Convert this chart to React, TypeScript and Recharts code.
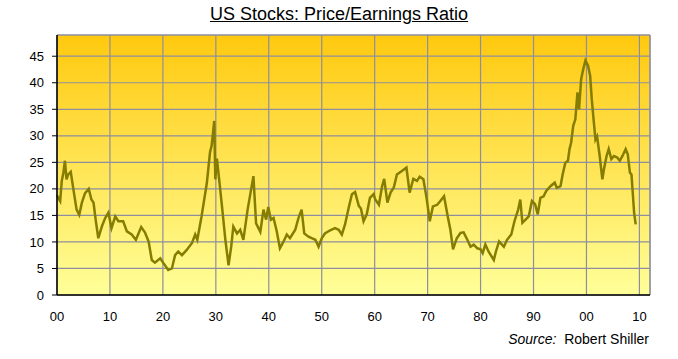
import { LineChart, Line, XAxis, YAxis, CartesianGrid, ReferenceLine } from 'recharts';

const years = [
  1900.0, 1900.1, 1900.6, 1900.9, 1901.2, 1901.5, 1901.8, 1902.1, 1902.6, 1903.1, 1903.7, 1904.2, 1904.7,
  1905.3, 1906.0, 1906.5, 1906.9, 1907.3, 1907.8, 1908.5, 1909.1, 1909.7, 1910.3, 1911.0, 1911.6, 1912.5,
  1913.2, 1914.1, 1914.9, 1915.9, 1916.6, 1917.3, 1917.9, 1918.5, 1919.5, 1920.1, 1921.0, 1921.7, 1922.3,
  1922.9, 1923.6, 1924.5, 1925.5, 1926.1, 1926.5, 1927.3, 1928.3, 1928.9, 1929.2, 1929.7, 1929.9, 1930.2,
  1930.7, 1931.1, 1931.8, 1932.4, 1932.9, 1933.3, 1934.0, 1934.6, 1935.2, 1936.0, 1937.1, 1937.6, 1938.4,
  1939.0, 1939.5, 1939.9, 1940.4, 1940.9, 1941.5, 1942.1, 1942.8, 1943.4, 1944.0, 1945.0, 1945.6, 1946.2,
  1946.7, 1947.5, 1948.1, 1948.8, 1949.4, 1950.0, 1950.6, 1951.6, 1952.5, 1953.2, 1953.8, 1954.4, 1955.1,
  1955.7, 1956.3, 1957.0, 1957.4, 1957.9, 1958.5, 1959.1, 1959.8, 1960.1, 1960.8, 1961.4, 1961.8, 1962.4,
  1963.0, 1963.6, 1964.2, 1965.2, 1966.0, 1966.6, 1967.3, 1968.0, 1968.5, 1969.2, 1969.8, 1970.4, 1971.0,
  1971.8, 1972.4, 1973.1, 1973.8, 1974.3, 1974.8, 1975.5, 1976.2, 1976.8, 1977.5, 1978.1, 1978.7, 1979.4,
  1980.0, 1980.4, 1980.9, 1981.5, 1982.5, 1982.9, 1983.5, 1984.4, 1985.0, 1985.8, 1986.4, 1987.1, 1987.5,
  1987.9, 1988.5, 1989.1, 1989.7, 1990.3, 1990.8, 1991.3, 1991.9, 1992.4, 1993.2, 1994.0, 1994.4, 1995.1,
  1995.5, 1996.0, 1996.5, 1996.8, 1997.1, 1997.5, 1997.9, 1998.3, 1998.6, 1999.0, 1999.4, 1999.8, 2000.3,
  2000.7, 2001.0, 2001.4, 2001.7, 2002.0, 2002.5, 2003.0, 2003.3, 2003.8, 2004.2, 2004.7, 2005.2, 2005.8,
  2006.3, 2006.8, 2007.4, 2007.8, 2008.2, 2008.5, 2008.7, 2009.0, 2009.3,
];

const peRatio = [
  18.8, 18.6, 17.7, 21.5, 23.0, 25.3, 21.8, 22.7, 23.2, 19.9, 16.1, 15.1, 17.4,
  19.2, 20.0, 18.0, 17.4, 14.2, 10.7, 13.0, 14.5, 15.5, 12.6, 14.8, 13.9, 13.9,
  12.0, 11.4, 10.4, 12.8, 11.8, 10.1, 6.6, 6.1, 6.9, 6.0, 4.7, 5.0, 7.5,
  8.2, 7.5, 8.5, 9.8, 11.4, 10.4, 14.8, 21.1, 26.9, 28.1, 32.8, 21.8, 25.7,
  21.1, 17.3, 10.4, 5.6, 9.1, 12.9, 11.6, 12.3, 10.4, 16.1, 22.4, 13.5, 11.9,
  16.1, 14.2, 16.6, 14.2, 14.5, 12.0, 8.8, 10.1, 11.4, 10.7, 12.3, 14.5, 16.1,
  11.6, 11.0, 10.7, 10.4, 9.1, 10.7, 11.6, 12.2, 12.6, 12.3, 11.4, 13.3, 16.5,
  19.0, 19.4, 16.8, 16.3, 13.9, 15.2, 18.3, 19.0, 18.0, 17.0, 20.5, 21.9, 17.4,
  19.3, 20.2, 22.7, 23.4, 24.0, 19.3, 21.9, 21.5, 22.3, 21.8, 18.3, 13.9, 16.7,
  17.0, 17.7, 18.6, 14.8, 12.3, 8.6, 10.7, 11.7, 11.8, 10.4, 9.1, 9.5, 8.8,
  8.6, 7.9, 9.5, 8.2, 6.6, 8.2, 10.1, 9.1, 10.4, 11.4, 13.9, 16.1, 18.0,
  13.6, 14.2, 14.8, 17.7, 17.1, 15.2, 18.3, 18.6, 19.6, 20.5, 21.2, 20.2, 20.5,
  22.7, 24.9, 25.3, 27.5, 28.7, 31.9, 33.1, 38.2, 35.0, 40.7, 42.6, 44.2, 43.2,
  41.3, 36.9, 32.5, 29.3, 29.9, 26.2, 21.8, 23.7, 26.2, 27.5, 25.6, 26.2, 25.9,
  25.3, 26.2, 27.5, 26.5, 23.1, 22.7, 19.9, 15.5, 13.3,
];

const yTicks = [0, 5, 10, 15, 20, 25, 30, 35, 40, 45];
const xTicks = [1900, 1910, 1920, 1930, 1940, 1950, 1960, 1970, 1980, 1990, 2000, 2010];

const data = years.map((y, i) => ({ year: y, pe: peRatio[i] }));

const FONT = '"Liberation Sans", Arial, sans-serif';
const GRID = '#8e8e9e';

export default function App() {
  return (
    <div style={{ position: 'absolute', left: 0, top: 0, width: 678, height: 359, background: '#fff', fontFamily: FONT }}>
      <div
        style={{
          position: 'absolute', left: 0, top: 5, width: 678, textAlign: 'center',
          fontSize: 18, lineHeight: '18px', textDecoration: 'underline', color: '#000',
        }}
      >
        US Stocks: Price/Earnings Ratio
      </div>
      <LineChart width={678} height={359} data={data} margin={{ top: 35, right: 28, left: 0, bottom: 0 }}>
        <defs>
          <linearGradient id="bg" x1="0" y1="0" x2="0" y2="1">
            <stop offset="0%" stopColor="#ffc90e" />
            <stop offset="100%" stopColor="#ffff99" />
          </linearGradient>
        </defs>
        <CartesianGrid stroke={GRID} strokeWidth={1.2} fill="url(#bg)" fillOpacity={1} />
        <XAxis
          dataKey="year"
          type="number"
          domain={[1900, 2012]}
          ticks={xTicks}
          interval={0}
          height={64}
          tickLine={false}
          tickSize={0}
          tickMargin={17}
          axisLine={{ stroke: '#000', strokeWidth: 1.5 }}
          tickFormatter={(v: number) => String(v % 100).padStart(2, '0')}
          tick={{ fill: '#000', fontSize: 13, fontFamily: FONT }}
        />
        <YAxis
          type="number"
          domain={[0, 49]}
          ticks={yTicks}
          interval={0}
          width={57}
          tickSize={5}
          tickMargin={8}
          tickLine={{ stroke: '#000' }}
          axisLine={{ stroke: '#000', strokeWidth: 1.5 }}
          tick={{ fill: '#000', fontSize: 13, fontFamily: FONT }}
        />
        <ReferenceLine y={49} stroke={GRID} strokeWidth={1.2} />
        <ReferenceLine x={2012} stroke={GRID} strokeWidth={1.2} />
        <Line
          type="linear"
          dataKey="pe"
          stroke="#857d00"
          strokeWidth={2.5}
          dot={false}
          isAnimationActive={false}
        />
      </LineChart>
      <div
        style={{
          position: 'absolute', right: 29, top: 332, fontSize: 14, lineHeight: '14px', color: '#000', whiteSpace: 'pre',
        }}
      >
        <i>Source:</i>{'  Robert Shiller'}
      </div>
    </div>
  );
}
